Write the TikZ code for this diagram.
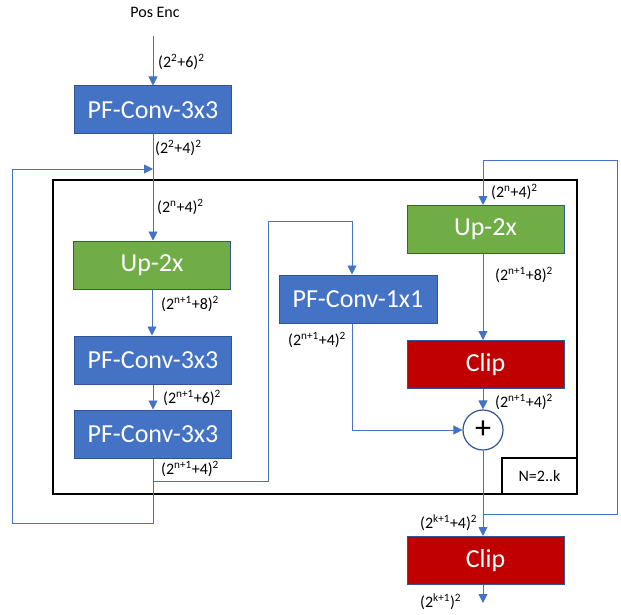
\documentclass[tikz,border=0pt]{standalone}
\usepackage{fontspec}
\setmainfont{Carlito}
\usetikzlibrary{positioning,calc,arrows.meta}
\definecolor{convblue}{HTML}{4472C4}
\definecolor{edgeblue}{HTML}{2F5597}
\definecolor{upgreen}{HTML}{70AD47}
\definecolor{clipred}{HTML}{C00000}
\tikzset{
	font=\fontsize{16pt}{18pt}\selectfont,
	blk/.style={draw=edgeblue, line width=1pt, text=white, minimum width=157pt, minimum height=48pt, inner sep=0pt, font=\fontsize{26pt}{28pt}\selectfont},
	conv/.style={blk, fill=convblue},
	upbox/.style={blk, fill=upgreen},
	clipbox/.style={blk, fill=clipred},
	conn/.style={draw=convblue, line width=0.9pt},
	arr/.style={conn, -{Triangle[length=9pt,width=9pt]}},
	dim/.style={anchor=west, inner sep=0pt},
}

\begin{document}
\begin{tikzpicture}[x=1pt, y=-1pt]
	\useasboundingbox (0,0) rectangle (621,615);
	% outer loop box
	\node[draw=black, line width=2pt, minimum width=524pt, minimum height=314pt, inner sep=0pt] (loopbox) at (315,337) {};
	\node[draw=black, line width=1.5pt, minimum width=75pt, minimum height=36pt, inner sep=0pt] (nbox) at (539.5,476) {N=2..k};

	\node (posenc) at (155,12) {Pos Enc};
	\coordinate (pe) at (153,36);

	% left column
	\node[conv] (conv0) at (153,110) {PF-Conv-3x3};
	\node[upbox] (upl) at (152,265) {Up-2x};
	\node[conv] (convl1) at (153,360) {PF-Conv-3x3};
	\node[conv] (convl2) at (153,434) {PF-Conv-3x3};

	% middle and right column
	\node[conv, minimum width=158pt] (conv1x1) at (358,299) {PF-Conv-1x1};
	\node[upbox] (upr) at (485.5,229.5) {Up-2x};
	\node[clipbox] (clipr) at (485.5,364.5) {Clip};
	\node[draw=edgeblue, line width=1.2pt, fill=white, circle, minimum size=40pt, inner sep=0pt, font=\fontsize{32pt}{32pt}\selectfont] (plus) at (483,430) {+};
	\node[clipbox] (clipout) at (485.5,560.5) {Clip};
	\coordinate (out) at (483,603);

	% sizes
	\node[dim] (d0) at (158,62) {(2\textsuperscript{2}+6)\textsuperscript{2}};
	\node[dim] (d1) at (155,148) {(2\textsuperscript{2}+4)\textsuperscript{2}};
	\node[dim] (d2) at (157,207) {(2\textsuperscript{n}+4)\textsuperscript{2}};
	\node[dim] (d3) at (161,304) {(2\textsuperscript{n+1}+8)\textsuperscript{2}};
	\node[dim] (d4) at (163,398) {(2\textsuperscript{n+1}+6)\textsuperscript{2}};
	\node[dim] (d5) at (161,469) {(2\textsuperscript{n+1}+4)\textsuperscript{2}};
	\node[dim] (d6) at (288,340) {(2\textsuperscript{n+1}+4)\textsuperscript{2}};
	\node[dim] (d7) at (491,192) {(2\textsuperscript{n}+4)\textsuperscript{2}};
	\node[dim] (d8) at (495,275) {(2\textsuperscript{n+1}+8)\textsuperscript{2}};
	\node[dim] (d9) at (495,402) {(2\textsuperscript{n+1}+4)\textsuperscript{2}};
	\node[dim] (d10) at (420,523) {(2\textsuperscript{k+1}+4)\textsuperscript{2}};
	\node[dim] (d11) at (420,602) {(2\textsuperscript{k+1})\textsuperscript{2}};

	% junctions
	\coordinate (lj) at (153,169);
	\coordinate (loopb) at (153,523);
	\coordinate (loopl) at (12,523);
	\coordinate (sk) at (153,481);
	\coordinate (skt) at (268,221);
	\coordinate (rj) at (483,514);
	\coordinate (rt) at (617,160);

	\draw[arr] (pe) -- (conv0.north);
	\draw[arr] (conv0.south) -- (conv0.south |- upl.north);
	\draw[arr] (upl.south) -- (upl.south |- convl1.north);
	\draw[arr] (convl1.south) -- (convl2.north);
	\draw[arr] (convl2.south) -- (loopb) -- (loopl) |- (lj);
	\draw[arr] (sk) -| (skt) -| ([xshift=-6pt]conv1x1.north);
	\draw[arr] ([xshift=-6pt]conv1x1.south) |- (plus.west);
	\draw[arr] (rj) -| (rt) -| (plus.north |- upr.north);
	\draw[arr] (plus.north |- upr.south) -- (plus.north |- clipr.north);
	\draw[arr] (plus.north |- clipr.south) -- (plus.north);
	\draw[arr] (plus.south) -- (plus.south |- clipout.north);
	\draw[arr] (plus.south |- clipout.south) -- (out);
\end{tikzpicture}
\end{document}
